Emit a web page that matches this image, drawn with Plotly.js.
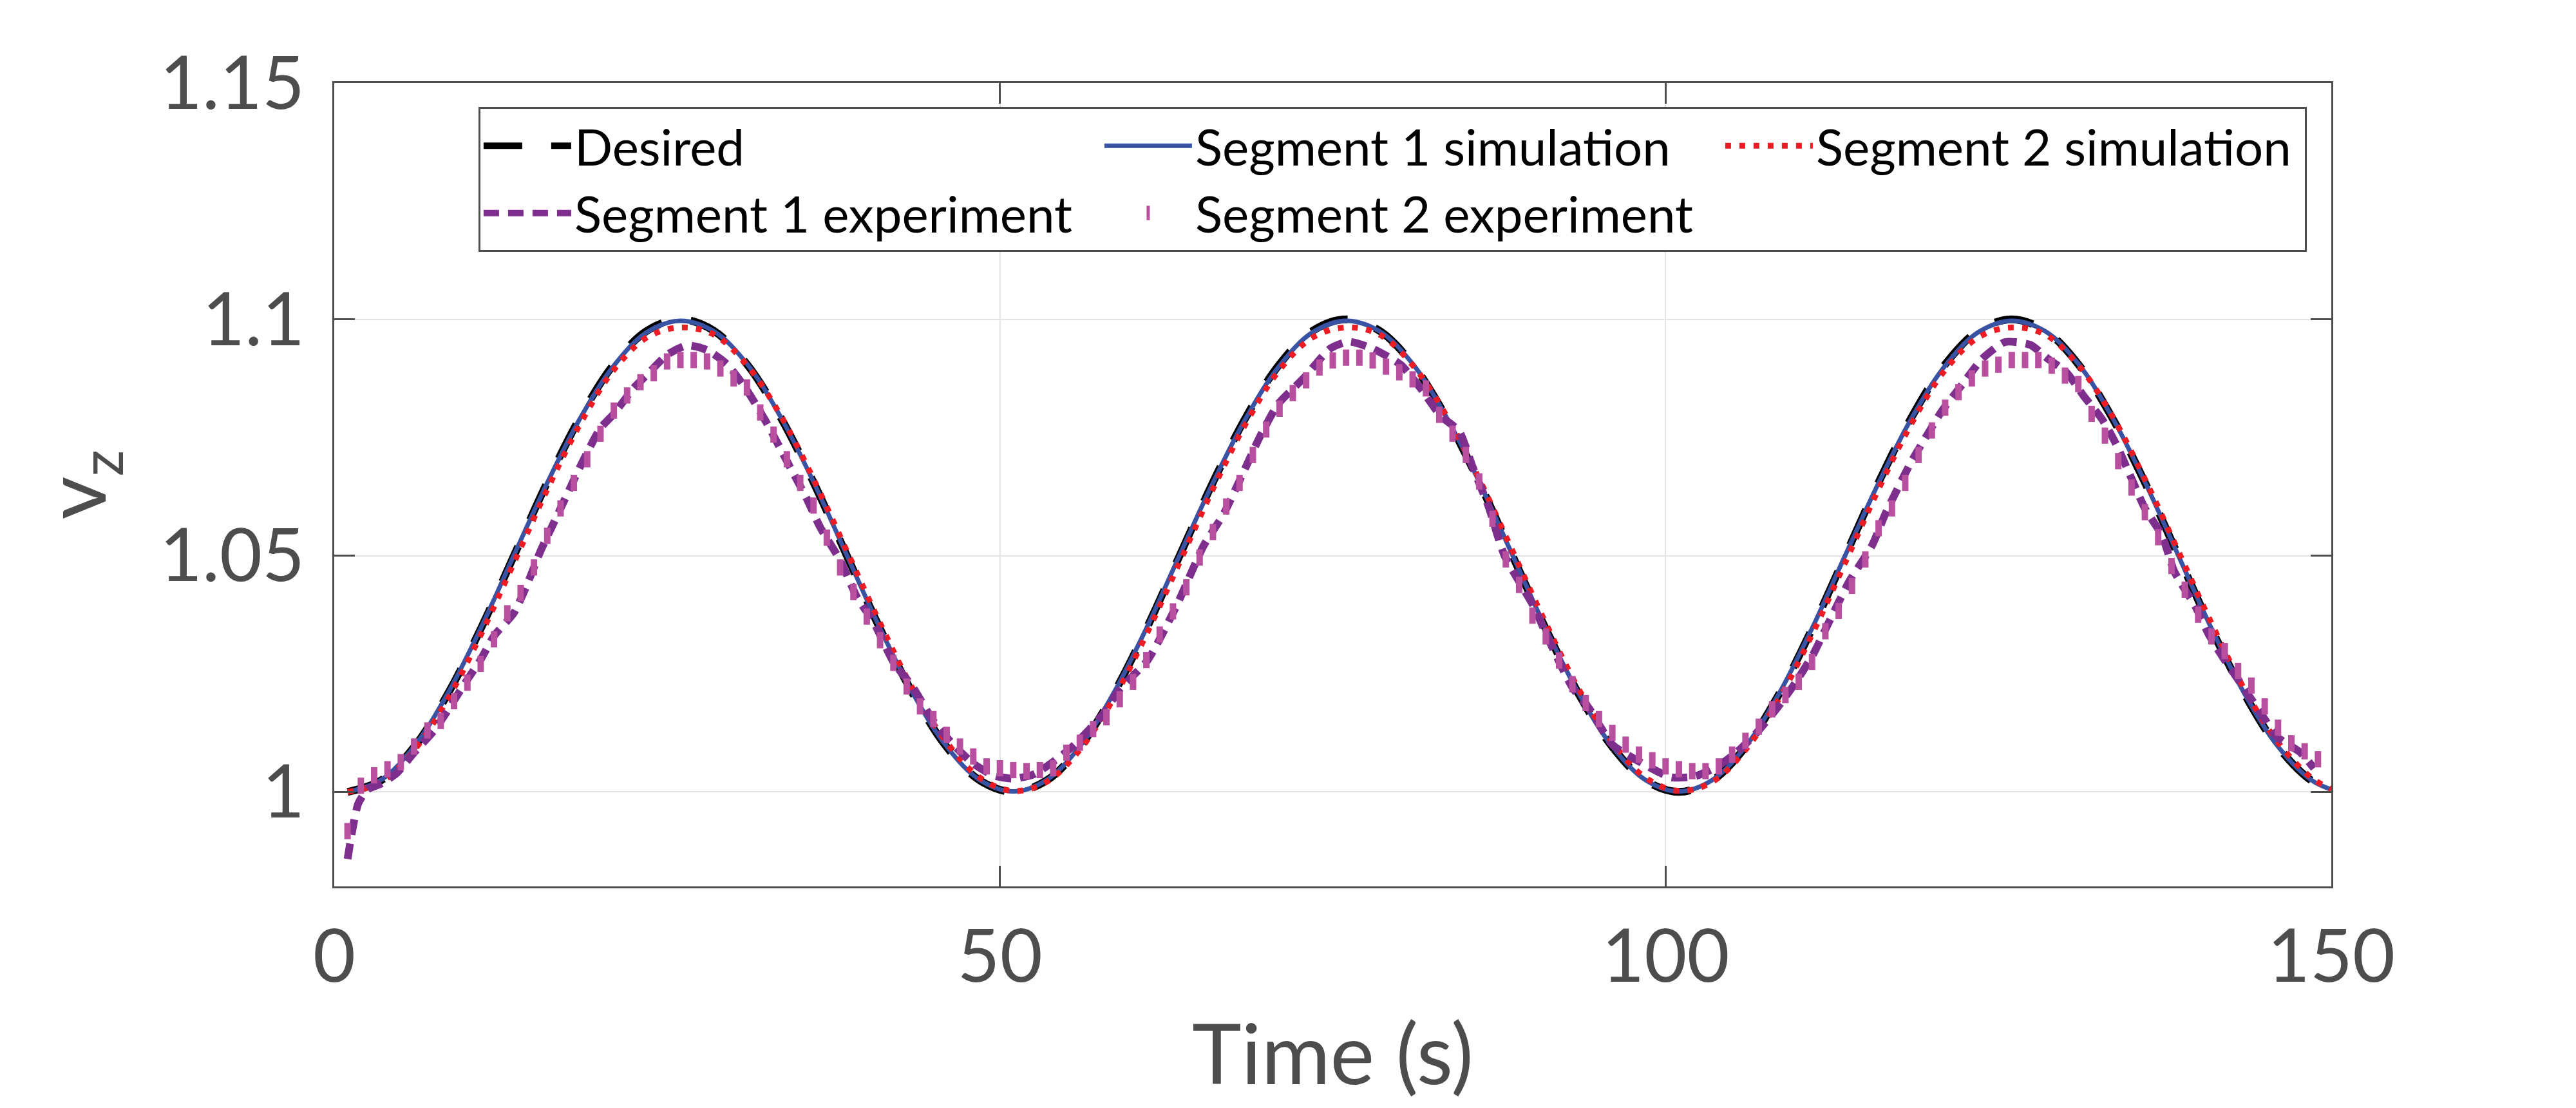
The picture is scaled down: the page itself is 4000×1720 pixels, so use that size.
<!DOCTYPE html>
<html><head><meta charset="utf-8">
<script src="https://cdn.plot.ly/plotly-3.0.1.min.js"></script>
<style>html,body{margin:0;padding:0;background:#fff}</style>
</head><body><div id="chart" style="width:4000px;height:1720px"></div>
<script>
// ---- data ----
const seriesNames = ['Desired', 'Segment 1 simulation', 'Segment 2 simulation', 'Segment 1 experiment', 'Segment 2 experiment'];

const tRef = [1,3.5,6,8.5,11,13.5,16,18.5,21,23.5,26,28.5,31,33.5,36,38.5,41,43.5,46,48.5,
  51,53.5,56,58.5,61,63.5,66,68.5,71,73.5,76,78.5,81,83.5,86,88.5,91,93.5,96,98.5,
  101,103.5,106,108.5,111,113.5,116,118.5,121,123.5,126,128.5,131,133.5,136,138.5,141,143.5,146,148.5,150];

const desired = [1.0000,1.0024,1.0095,1.0206,1.0345,1.0500,1.0655,1.0794,1.0905,1.0976,1.1000,1.0976,1.0905,1.0794,1.0655,1.0500,1.0345,1.0206,1.0095,1.0024,
  1.0000,1.0024,1.0095,1.0206,1.0345,1.0500,1.0655,1.0794,1.0905,1.0976,1.1000,1.0976,1.0905,1.0794,1.0655,1.0500,1.0345,1.0206,1.0095,1.0024,
  1.0000,1.0024,1.0095,1.0206,1.0345,1.0500,1.0655,1.0794,1.0905,1.0976,1.1000,1.0976,1.0905,1.0794,1.0655,1.0500,1.0345,1.0206,1.0095,1.0024,
  1.0004];

const simSeg1 = [1.0000,1.0025,1.0096,1.0207,1.0346,1.0501,1.0654,1.0792,1.0902,1.0973,1.0997,1.0975,1.0906,1.0795,1.0656,1.0501,1.0346,1.0207,1.0096,1.0025,
  1.0001,1.0025,1.0096,1.0207,1.0346,1.0501,1.0654,1.0792,1.0902,1.0973,1.0997,1.0975,1.0906,1.0795,1.0656,1.0501,1.0346,1.0207,1.0096,1.0025,
  1.0001,1.0025,1.0096,1.0207,1.0346,1.0501,1.0654,1.0792,1.0902,1.0973,1.0997,1.0975,1.0906,1.0795,1.0656,1.0501,1.0346,1.0207,1.0096,1.0025,
  1.0005];

const simSeg2 = [1.0000,1.0020,1.0088,1.0195,1.0332,1.0485,1.0640,1.0780,1.0893,1.0962,1.0983,1.0968,1.0903,1.0798,1.0662,1.0510,1.0357,1.0216,1.0105,1.0030,
  1.0002,1.0021,1.0089,1.0196,1.0333,1.0486,1.0641,1.0781,1.0893,1.0962,1.0983,1.0968,1.0903,1.0798,1.0662,1.0510,1.0357,1.0216,1.0105,1.0030,
  1.0002,1.0021,1.0089,1.0196,1.0333,1.0486,1.0641,1.0781,1.0893,1.0962,1.0983,1.0968,1.0903,1.0798,1.0662,1.0510,1.0357,1.0216,1.0105,1.0030,
  1.0006];

const tExp1 = [1.0,1.8,2.5,3.5,4.7,6.0,7.5,8.5,9.7,11.0,12.0,13.5,14.5,15.5,16.5,17.5,18.5,20.0,21.0,22.5,23.5,25.0,26.5,28.0,29.5,31.0,32.5,34.0,35.5,36.5,38.0,39.3,40.5,42.0,43.5,45.0,46.5,48.0,49.5,51.0,
  52.6,55.3,57.7,59.0,61.1,63.3,65.3,66.8,68.2,69.5,70.9,72.8,74.8,76.2,78.0,80.1,81.6,83.1,84.5,85.5,86.7,87.9,90.1,91.3,93.0,94.3,96.0,98.1,100.4,
  102.2,103.9,105.3,106.7,108.2,109.7,111.1,111.9,113.8,115.5,116.5,118.4,119.7,120.7,122.3,123.8,125.5,127.4,128.7,130.1,131.4,132.8,133.8,135.0,136.0,137.3,138.2,139.8,140.8,141.9,143.0,144.0,145.0,145.9,147.7,148.7];
const expSeg1 = [0.9858,0.9975,1.0005,1.0017,1.0040,1.0083,1.0130,1.0171,1.0225,1.0280,1.0330,1.0379,1.0440,1.0510,1.0570,1.0630,1.0690,1.0770,1.0800,1.0855,1.0883,1.0925,1.0945,1.0935,1.0905,1.0850,1.0780,1.0700,1.0620,1.0560,1.0490,1.0410,1.0360,1.0275,1.0220,1.0150,1.0100,1.0060,1.0035,1.0028,
  1.0038,1.0092,1.0163,1.0217,1.0279,1.0396,1.0521,1.0588,1.0671,1.0750,1.0821,1.0875,1.0938,1.0953,1.0938,1.0904,1.0854,1.0796,1.0763,1.0688,1.0604,1.0500,1.0392,1.0317,1.0221,1.0175,1.0100,1.0063,1.0031,
  1.0033,1.0054,1.0083,1.0121,1.0171,1.0229,1.0292,1.0338,1.0446,1.0521,1.0588,1.0696,1.0758,1.0804,1.0863,1.0917,1.0952,1.0946,1.0917,1.0888,1.0838,1.0788,1.0738,1.0663,1.0600,1.0542,1.0467,1.0392,1.0333,1.0283,1.0238,1.0196,1.0154,1.0117,1.0083,1.0050];

// Segment 2 experiment sampled every 1 s starting at t = 1
const exp2Start = 1, exp2Step = 1;
const expSeg2 = [0.9917,1.0013,1.0035,1.0048,1.0063,1.0096,1.0130,1.0150,1.0192,1.0231,
  1.0271,1.0323,1.0378,1.0421,1.0475,1.0542,1.0600,1.0654,1.0704,1.0758,
  1.0807,1.0839,1.0867,1.0886,1.0911,1.0914,1.0914,1.0911,1.0896,1.0875,
  1.0856,1.0803,1.0756,1.0704,1.0654,1.0606,1.0538,1.0475,1.0423,1.0371,
  1.0321,1.0273,1.0223,1.0181,1.0154,1.0121,1.0096,1.0075,1.0054,1.0050,
  1.0046,1.0044,1.0046,1.0050,1.0083,1.0104,1.0133,1.0158,1.0196,1.0233,
  1.0279,1.0333,1.0382,1.0433,1.0496,1.0550,1.0604,1.0654,1.0713,1.0767,
  1.0811,1.0844,1.0871,1.0898,1.0913,1.0919,1.0919,1.0913,1.0900,1.0888,
  1.0873,1.0854,1.0798,1.0758,1.0713,1.0657,1.0578,1.0492,1.0438,1.0373,
  1.0329,1.0278,1.0228,1.0188,1.0154,1.0125,1.0100,1.0079,1.0067,1.0054,
  1.0048,1.0044,1.0044,1.0054,1.0079,1.0108,1.0138,1.0175,1.0205,1.0233,
  1.0275,1.0340,1.0383,1.0436,1.0492,1.0558,1.0600,1.0654,1.0713,1.0765,
  1.0813,1.0846,1.0875,1.0896,1.0904,1.0914,1.0914,1.0914,1.0902,1.0881,
  1.0863,1.0800,1.0754,1.0700,1.0644,1.0592,1.0539,1.0478,1.0428,1.0375,
  1.0329,1.0298,1.0256,1.0225,1.0181,1.0136,1.0103,1.0086,1.0069];

const xTicks = [0, 50, 100, 150];
const yTicks = [1, 1.05, 1.1, 1.15];
const yTickLabels = ['1', '1.05', '1.1', '1.15'];
const xLabel = 'Time (s)';
const yLabel = 'v<sub>z</sub>';

// ---- traces ----
const traces = [
  {x: tRef, y: desired, name: seriesNames[0], mode: 'lines',
   line: {color: '#000000', width: 12, dash: '60px,45px', shape: 'spline', smoothing: 1}},
  {x: tRef, y: simSeg1, name: seriesNames[1], mode: 'lines',
   line: {color: '#3953A4', width: 7, shape: 'spline', smoothing: 1}},
  {x: tRef, y: simSeg2, name: seriesNames[2], mode: 'lines', legendwidth: 754,
   line: {color: '#ED1C24', width: 9, dash: '9px,13px', shape: 'spline', smoothing: 1}},
  {x: tExp1, y: expSeg1, name: seriesNames[3], mode: 'lines',
   line: {color: '#7E2F8E', width: 12, dash: '24px,14px', shape: 'spline', smoothing: 0.6}},
  {x0: exp2Start, dx: exp2Step, y: expSeg2, name: seriesNames[4], mode: 'markers',
   marker: {symbol: 'line-ns-open', size: 18, color: '#B8509F', line: {color: '#B8509F', width: 10}}}
];

const FONT = 'Lato, "Open Sans", sans-serif';

const axisCommon = {
  ticks: 'inside', ticklen: 32, tickwidth: 3, tickcolor: '#4D4D4D',
  showline: true, linecolor: '#4D4D4D', linewidth: 3, mirror: 'ticks',
  showgrid: true, gridcolor: '#E3E3E3', gridwidth: 2, zeroline: false,
  tickfont: {family: FONT, size: 114, color: '#4D4D4D'}
};

const layout = {
  width: 4000, height: 1720,
  margin: {l: 519, r: 380, t: 129, b: 344, pad: 0},
  paper_bgcolor: '#ffffff', plot_bgcolor: '#ffffff',
  font: {family: FONT, color: '#4D4D4D'},
  showlegend: true,
  legend: {
    orientation: 'h', x: 0.0722, y: 0.9703, xanchor: 'left', yanchor: 'top',
    bgcolor: '#ffffff', bordercolor: '#4D4D4D', borderwidth: 3,
    font: {family: FONT, size: 78, color: '#000000'},
    itemwidth: 136, entrywidth: 813, tracegroupgap: 0
  },
  xaxis: Object.assign({}, axisCommon, {
    range: [0, 150], tickvals: xTicks, ticklabelstandoff: 8,
    title: {text: xLabel, font: {family: FONT, size: 130, color: '#4D4D4D'}, standoff: 46}
  }),
  yaxis: Object.assign({}, axisCommon, {
    range: [0.98, 1.15], tickvals: yTicks, ticktext: yTickLabels, ticklabelstandoff: 20,
    title: {text: yLabel, font: {family: FONT, size: 130, color: '#4D4D4D'}, standoff: 40}
  })
};

Plotly.newPlot('chart', traces, layout, {staticPlot: true, displayModeBar: false});
</script></body></html>
